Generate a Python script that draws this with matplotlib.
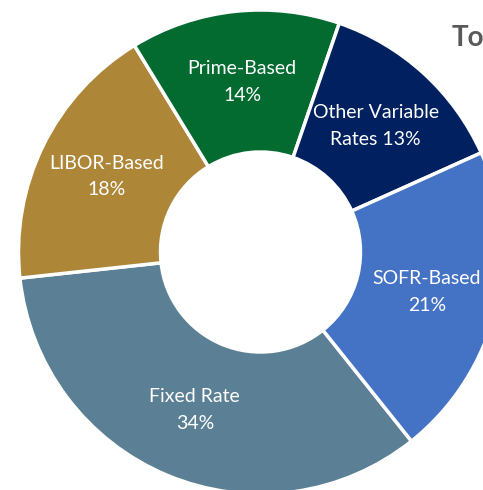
import matplotlib
matplotlib.use('Agg')
import matplotlib.pyplot as plt

# slices, in clockwise order starting at the Fixed/SOFR boundary
names = ['Fixed Rate', 'LIBOR-Based', 'Prime-Based', 'Other Variable\nRates', 'SOFR-Based']
shares = [34, 18, 14, 13, 21]
seps = ['\n', '\n', '\n', ' ', '\n']
colors = ['#5b7f94', '#ad8638', '#036b30', '#00205f', '#4472c4']

plt.rcParams['font.family'] = ['Lato', 'DejaVu Sans']

fig = plt.figure(figsize=(4.83, 4.90), dpi=100)
ax = fig.add_axes([0, 0, 1, 1])

labels = [f'{n}{s}{v}%' for n, s, v in zip(names, seps, shares)]
wedges, texts = ax.pie(
    shares, labels=labels, colors=colors, counterclock=False,
    startangle=-51.4, radius=242, center=(260.5, 238),
    labeldistance=171 / 242,
    wedgeprops=dict(width=142, edgecolor='white', linewidth=2.5),
    textprops=dict(color='white', fontsize=14),
)
for t in texts:
    t.set_ha('center')
    t.set_va('center')
    t.set_multialignment('center')
    t.set_linespacing(1.7)

ax.set_xlim(0, 483)
ax.set_ylim(0, 490)
ax.set_aspect('equal')
ax.axis('off')

# chart title, cut off by the right edge as in the source image
fig.text(452 / 483, 1 - 38 / 490, 'Total', fontsize=20, fontweight='bold',
         color='#595959', ha='left', va='center')

fig.savefig('out.png', dpi=100)
plt.close(fig)
